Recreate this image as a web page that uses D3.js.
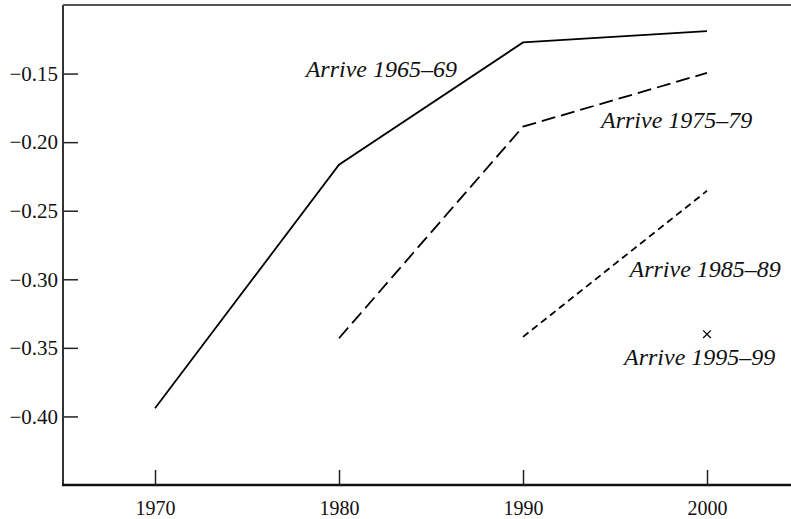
<!DOCTYPE html>
<html><head><meta charset="utf-8">
<script src="https://cdn.jsdelivr.net/npm/d3@7"></script>
<style>
body{margin:0;background:#fff;}
svg{display:block;font-family:"Liberation Serif","Times New Roman",serif;}
</style></head><body>
<svg id="c" width="791" height="519"></svg>
<script>
const years = [1970, 1980, 1990, 2000];
const yTicks = [-0.40, -0.35, -0.30, -0.25, -0.20, -0.15];
const seriesNames = ["Arrive 1965–69", "Arrive 1975–79", "Arrive 1985–89", "Arrive 1995–99"];
const arrive196569 = [-0.394, -0.2165, -0.1273, -0.119];
const arrive197579 = [null, -0.343, -0.1887, -0.1495];
const arrive198589 = [null, null, -0.342, -0.2355];
const arrive199599 = [null, null, null, -0.340];
// label anchor positions in data units (centre x year, baseline value)
const labelYears = [1982.3, 1998.35, 1999.9, 1999.6];
const labelVals = [-0.1525, -0.1897, -0.298, -0.3625];

const svg = d3.select("#c");
const FONT = '"Liberation Serif","Times New Roman",serif';
const m = {l:63, t:5, b:34};
const W = 791, H = 519;
const x = d3.scaleLinear().domain([1965, 2005]).range([m.l, m.l + 40*18.4]);
const y = d3.scaleLinear().domain([-0.45, -0.10]).range([H - m.b, m.t]);

// y axis (ticks inward)
const yAxis = d3.axisRight(y).tickValues(yTicks).tickSize(15).tickFormat(d => d3.format(".2f")(d).replace("-", "–"));
const gy = svg.append("g").attr("transform", `translate(${m.l},0)`).call(yAxis).attr("font-family", FONT);
gy.select(".domain").remove();
gy.selectAll(".tick line").attr("stroke", "#222").attr("stroke-width", 1.5);
gy.selectAll(".tick text").attr("x", -5).attr("text-anchor", "end").attr("font-size", 21).attr("fill", "#111").attr("dy", "0.32em");

// x axis (ticks inward)
const xAxis = d3.axisTop(x).tickValues(years).tickSize(15).tickFormat(d3.format("d"));
const gx = svg.append("g").attr("transform", `translate(0,${H - m.b})`).call(xAxis).attr("font-family", FONT);
gx.select(".domain").remove();
gx.selectAll(".tick line").attr("stroke", "#222").attr("stroke-width", 1.5);
gx.selectAll(".tick text").attr("y", 30).attr("font-size", 20).attr("fill", "#111").attr("dy", 0);

// frame lines
svg.append("line").attr("x1", m.l).attr("x2", m.l).attr("y1", m.t).attr("y2", H - m.b).attr("stroke", "#333").attr("stroke-width", 2);
svg.append("line").attr("x1", m.l).attr("x2", W).attr("y1", m.t).attr("y2", m.t).attr("stroke", "#555").attr("stroke-width", 2);
svg.append("line").attr("x1", m.l - 1).attr("x2", W).attr("y1", H - m.b).attr("y2", H - m.b).attr("stroke", "#111").attr("stroke-width", 2.5);

const line = d3.line().defined(d => d[1] !== null).x(d => x(d[0])).y(d => y(d[1]));
const series = [
  {vals: arrive196569, dash: null},
  {vals: arrive197579, dash: "14,6"},
  {vals: arrive198589, dash: "7,4.5"}
];
series.forEach(s => {
  svg.append("path")
    .datum(years.map((yr, i) => [yr, s.vals[i]]))
    .attr("d", line)
    .attr("fill", "none").attr("stroke", "#000").attr("stroke-width", 1.8)
    .attr("stroke-dasharray", s.dash);
});

// single point marker
const px = x(years[3]), py = y(arrive199599[3]);
svg.append("path").attr("d", d3.symbol(d3.symbolTimes, 40)()).attr("transform", `translate(${px},${py})`)
  .attr("fill", "none").attr("stroke", "#000").attr("stroke-width", 1.2);

// labels
seriesNames.forEach((n, i) => {
  svg.append("text").attr("x", x(labelYears[i])).attr("y", y(labelVals[i]))
    .attr("text-anchor", "middle").attr("font-style", "italic").attr("font-size", 24).attr("fill", "#111").text(n);
});
</script>
</body></html>
